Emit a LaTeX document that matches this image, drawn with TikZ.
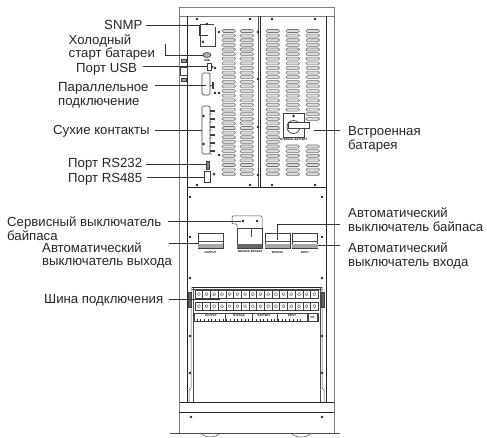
\documentclass[tikz,border=0pt]{standalone}
\usepackage{fontspec}
\setmainfont{Liberation Sans}
\usetikzlibrary{positioning,shapes.geometric}
\begin{document}
\begin{tikzpicture}[x=1pt,y=-1pt,
    lbl/.style={anchor=west,inner sep=0pt,align=left,text=black!85,font=\fontsize{13.2}{13.8}\selectfont},
    tiny/.style={inner sep=0pt,font=\fontsize{2.8}{3}\selectfont\bfseries},
    leader/.style={draw=black!80,line width=.55pt},
    wall/.style={draw=black!50,line width=.9pt},
    frame/.style={draw=black!85,line width=1pt},
    thin/.style={draw=black!70,line width=.5pt},
    louver/.style={draw=black!55,fill=black!14,line width=.55pt,rounded corners=1.4pt},
    screw/.style={circle,fill=black!85,minimum size=2.8pt,inner sep=0pt},
    part/.style={draw=black!75,line width=.7pt,inner sep=0pt},
    breaker/.style={part,minimum width=25pt,minimum height=15pt},
]
    \useasboundingbox (0,0) rectangle (487,438);

    \draw[wall] (179,7) rectangle (334,16);
    \draw[wall] (179,16) -- (179,402) (334,16) -- (334,402) (179,412) -- (179,433) (334,412) -- (334,433);
    \draw[frame] (187,16) -- (187,402) (326,16) -- (326,402);
    \draw[frame] (187,188) -- (326,188);
    \draw[frame] (260,16) -- (260,188);
    \draw[thin] (258,16) -- (258,188);
    \draw[frame] (179,402) -- (334,402) (179,412) -- (334,412);
    \draw[wall] (179,402) -- (179,412) (334,402) -- (334,412);
    \draw[thin] (170,433) -- (340,433);
    \draw[thin] (201,433) .. controls (206,438.5) and (215,438.5) .. (220,433);
    \draw[thin] (291,433) .. controls (296,438.5) and (306,438.5) .. (311,433);

    \foreach \lx/\lrows in {222/{0,...,31},240/{0,...,31},266/{0,...,31},286/{0,...,17,25,26,...,31},306/{0,...,19,25,26,...,31}}{
        \foreach \lrow in \lrows{
            \draw[louver] (\lx,{29.5+4.62*\lrow}) rectangle ++(13.5,3);
        }
    }

    \foreach \sx/\sy [count=\si] in {197/19,250/19,272/19,315/19,197/185,250/185,272/185,315/185,258/32,258/79,258/127,258/175,219/32,219/93,215/93,219/155,215/68,212/67,190/197,322/197,190/237,322/237,190/278,322/278,190/336,322/336,190/373,322/373,191/417,322/417}{
        \node[screw] (screw\si) at (\sx,\sy) {};
    }

    \node[part,minimum width=15pt,minimum height=22pt] (snmpcard) at (207.5,35) {};
    \fill[white] (214,24) rectangle (216,27);
    \node[screw] (snmpdota) at (203,42) {};
    \node[screw] (snmpdotb) at (207,24) {};
    \node[part,ellipse,fill=black!30,minimum width=8pt,minimum height=5pt] (coldbtn) at (207,55) {};
    \node[tiny] (usbtext) at (207,60.5) {USB};
    \node[part,minimum width=4pt,minimum height=7pt] (usbport) at (209,66.5) {};
    \node[part,rounded corners=1.5pt,minimum width=8pt,minimum height=22pt] (parcard) at (206,84) {};
    \node[part,minimum width=.6pt,minimum height=6pt,fill=black] (parbar) at (213,85) {};
    \draw[thin] (parcard.east |- parbar) -- (parbar);
    \node[part,rounded corners=1.5pt,minimum width=8pt,minimum height=48pt] (drycard) at (206,130) {};
    \foreach \dy [count=\di] in {111,119,127,135,143,151}{
        \node[part,fill=black!70,minimum width=4pt,minimum height=1.4pt] (dryterm\di) at (212,\dy) {};
        \node[screw,minimum size=1.4pt] (dryscrew\di) at (210.8,\dy+3) {};
    }
    \node[screw] (drydota) at (203.5,116) {};
    \node[screw] (drydotb) at (203.5,144) {};
    \node[part,fill=black!50,minimum width=2.5pt,minimum height=8pt] (rsa) at (208,165) {};
    \node[part,minimum width=6pt,minimum height=11pt] (rsb) at (207,176.5) {};
    \node[part,circle,minimum size=2.4pt] (rsbdot) at (214,174) {};
    \node[part,minimum width=7pt,minimum height=8pt] (latch) at (183.5,71) {};
    \node[part,fill=black!40,minimum width=5pt,minimum height=3pt] (latcha) at (183.5,61) {};
    \node[part,fill=black!40,minimum width=5pt,minimum height=3pt] (latchb) at (183.5,80) {};

    \node[part,line width=.9pt,minimum width=21pt,minimum height=24pt] (bypsw) at (293.5,125) {};
    \node[part,circle,minimum size=13pt] (bypdial) at (293.5,127) {};
    \node[part,fill=white,minimum width=21pt,minimum height=6pt] (bypknob) at (299,125) {};
    \node[screw] (bypdot) at (293.5,116) {};
    \node[tiny] (bypsw text) at (293.5,140) {INTERNAL BATTERY};

    \foreach \bname/\bx/\btext in {brkoutput/210.5/OUTPUT,brkbypass/277.5/BYPASS,brkinput/305/INPUT}{
        \node[breaker] (\bname) at (\bx,240.5) {};
        \fill[black!35] (\bname.south west) rectangle ([yshift=4pt]\bname.south east);
        \draw[thin] ([yshift=-1pt]\bname.west) -- ([yshift=-1pt]\bname.east);
        \node[tiny] (\bname text) at ([yshift=-4pt]\bname.south) {\btext};
    }
    \node[part,minimum width=25pt,minimum height=20pt] (brkservice) at (249.5,238) {};
    \fill[black!60] (brkservice.south west) rectangle ([yshift=4.5pt]brkservice.south east);
    \node[tiny] (brkservice text) at (250,252) {SERVICE BYPASS};
    \draw[thin,rounded corners=1pt] (237,228) -- (237,224) -- (232,224) -- (232,216) -- (262,216) -- (262,228);
    \node[screw] (brkdota) at (243,221) {};
    \node[screw] (brkdotb) at (257,221) {};
    \draw[thin] (251,228) -- (251,237);

    \draw[frame] (192,287) -- (322,287);
    \draw[thin] (192,289) -- (322,289);
    \draw[thin] (193,287) -- (193,402) (320,287) -- (320,402);
    \draw[thin] (191,287) -- (191,388) -- (189,390) -- (189,402);
    \draw[thin] (322,287) -- (322,388) -- (324,390) -- (324,402);
    \foreach \rowy in {290,302}{
        \foreach \cell in {0,...,15}{
            \draw[part,line width=.6pt] ({195+7.7*\cell},\rowy) rectangle ++(7.7,8.4);
            \draw[thin,line width=.35pt] ({198.85+7.7*\cell},\rowy+4.2) circle [radius=1.6pt];
        }
    }
    \node[part,fill=black!60,minimum width=3.5pt,minimum height=15pt] (busleft) at (190,300) {};
    \node[part,fill=black!60,minimum width=3.5pt,minimum height=15pt] (busright) at (323,300) {};
    \coordinate (buslink) at (220,299);

    \node[part,minimum width=124pt,minimum height=7.5pt] (termrow) at (256,317.5) {};
    \foreach \tx in {225,252,277,307}{
        \draw[thin] (\tx,314) -- (\tx,321);
    }
    \foreach \tx/\ttext in {211/OUTPUT,239/BYPASS,264/BATTERY,292/INPUT}{
        \node[tiny] (term\ttext) at (\tx,316) {\ttext};
    }
    \foreach \tick in {0,...,28}{
        \draw[black!85,line width=.8pt] ({197+3.7*\tick},319) -- ++(0,2);
    }
    \node[part,fill=white,minimum width=9pt,minimum height=7.5pt] (termpe) at (312.5,317.5) {};
    \node[tiny] (termpe text) at (312.5,317.5) {PE};

    \node[lbl] (lblsnmp) at (104,25) {SNMP};
    \node[lbl] (lblcold) at (68.5,47.5) {Холодный\\старт батареи};
    \node[lbl] (lblusb) at (76,69.5) {Порт USB};
    \node[lbl] (lblpar) at (58,95) {Параллельное\\подключение};
    \node[lbl] (lbldry) at (53,131) {Сухие контакты};
    \node[lbl] (lblrsa) at (68,164.5) {Порт RS232};
    \node[lbl] (lblrsb) at (68,179) {Порт RS485};
    \node[lbl] (lblservice) at (7,228.5) {Сервисный выключатель\\байпаса};
    \node[lbl] (lbloutput) at (42,255.5) {Автоматический\\выключатель выхода};
    \node[lbl] (lblbus) at (44,300.5) {Шина подключения};
    \node[lbl] (lblbat) at (348,139) {Встроенная\\батарея};
    \node[lbl] (lblbypass) at (348,220) {Автоматический\\выключатель байпаса};
    \node[lbl] (lblinput) at (348,256) {Автоматический\\выключатель входа};

    \coordinate (snmpfrom) at (146,25);
    \coordinate (coldfrom) at (165,44);
    \coordinate (usbfrom) at (143,66);
    \coordinate (parfrom) at (155,85);
    \coordinate (dryfrom) at (155,130);
    \coordinate (rsafrom) at (146,164.5);
    \coordinate (rsbfrom) at (147,177);
    \coordinate (servicefrom) at (168,221);
    \coordinate (outputfrom) at (169,243);
    \coordinate (busfrom) at (169,299);
    \coordinate (batfrom) at (340,130.5);
    \coordinate (batto) at (314,130.5);
    \coordinate (bypassfrom) at (340,224);
    \coordinate (inputfrom) at (340,245);

    \draw[leader] (snmpfrom) -- (199,25) |- (snmpcard.center);
    \draw[leader] (coldfrom) |- (coldbtn.west);
    \draw[leader] (usbfrom) -- (usbport.west |- usbfrom);
    \draw[leader] (parfrom) -- (parcard.center |- parfrom);
    \draw[leader] (dryfrom) -- (drycard.west |- dryfrom);
    \draw[leader] (rsafrom) -- (rsa.west |- rsafrom);
    \draw[leader] (rsbfrom) -- (rsb.west |- rsbfrom);
    \draw[leader] (servicefrom) -- (brkdota);
    \draw[leader] (outputfrom) -- (brkoutput.west |- outputfrom);
    \draw[leader] (busfrom) -- (buslink);
    \draw[leader] (batfrom) -- (batto);
    \draw[leader] (bypassfrom) -| (brkbypass.center);
    \draw[leader] (inputfrom) -- (brkinput.east |- inputfrom);
\end{tikzpicture}
\end{document}
